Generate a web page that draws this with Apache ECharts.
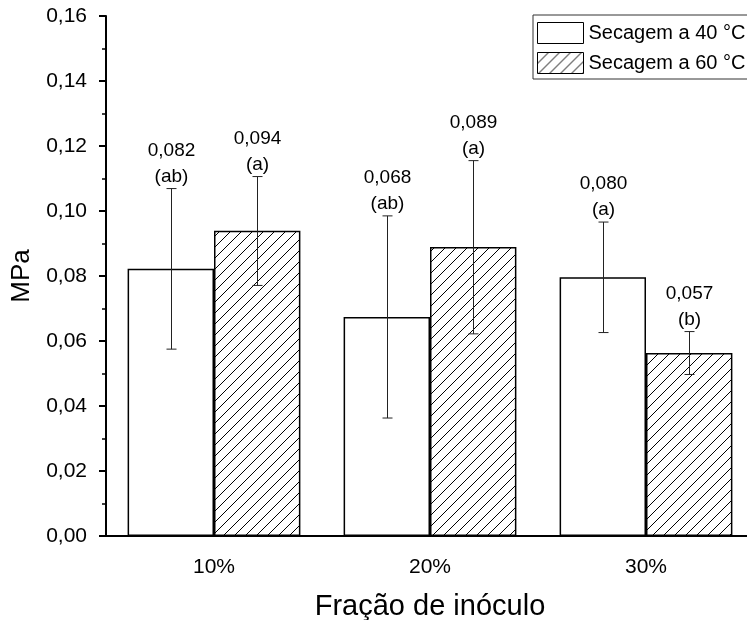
<!DOCTYPE html>
<html>
<head>
<meta charset="utf-8">
<script src="https://cdn.jsdelivr.net/npm/echarts@6/dist/echarts.min.js"></script>
<style>
  html, body { margin: 0; padding: 0; background: #fff; }
  #chart { width: 747px; height: 620px; }
</style>
</head>
<body>
<div id="chart"></div>
<script>
// ---- data ----
const categories = ['10%', '20%', '30%'];
const seriesNames = ['Secagem a 40 °C', 'Secagem a 60 °C'];
const mean40 = [0.0822, 0.0674, 0.0796];
const mean60 = [0.0939, 0.0889, 0.0563];
const low40 = [0.0575, 0.0363, 0.0626];
const high40 = [0.1069, 0.0985, 0.0966];
const low60 = [0.0771, 0.0622, 0.0497];
const high60 = [0.1106, 0.1155, 0.0629];
const valueLabels40 = ['0,082', '0,068', '0,080'];
const valueLabels60 = ['0,094', '0,089', '0,057'];
const letters40 = ['(ab)', '(ab)', '(a)'];
const letters60 = ['(a)', '(a)', '(b)'];
const yTicks = { min: 0, max: 0.16, interval: 0.02 };

const FONT = '"Liberation Sans", Arial, sans-serif';

function makeHatch() {
  const s = 11;
  const c = document.createElement('canvas');
  c.width = s; c.height = s;
  const ctx = c.getContext('2d');
  ctx.fillStyle = '#fff';
  ctx.fillRect(0, 0, s, s);
  ctx.strokeStyle = '#000';
  ctx.lineWidth = 1;
  ctx.beginPath();
  ctx.moveTo(0, s); ctx.lineTo(s, 0);
  ctx.moveTo(-2, 2); ctx.lineTo(2, -2);
  ctx.moveTo(s - 2, s + 2); ctx.lineTo(s + 2, s - 2);
  ctx.stroke();
  return c;
}
const hatch = { image: makeHatch(), repeat: 'repeat' };

function errorSeries(low, high, labels, letters, sign) {
  return {
    type: 'custom',
    z: 5,
    silent: true,
    data: categories.map((c, i) => [i, low[i], high[i]]),
    encode: { x: 0, y: [1, 2] },
    renderItem: function (params, api) {
      const idx = api.value(0);
      const x = api.coord([idx, 0])[0];
      const band = api.size([1, 0])[0];
      const bw = band * 0.4;
      const cx = Math.round(x + sign * bw / 2) + 0.5;
      const yLo = api.coord([idx, api.value(1)])[1];
      const yHi = api.coord([idx, api.value(2)])[1];
      const cap = 5;
      const ls = { stroke: '#222', lineWidth: 1 };
      return {
        type: 'group',
        children: [
          { type: 'line', shape: { x1: cx, y1: yHi, x2: cx, y2: yLo }, style: ls },
          { type: 'line', shape: { x1: cx - cap, y1: yHi, x2: cx + cap, y2: yHi }, style: ls },
          { type: 'line', shape: { x1: cx - cap, y1: yLo, x2: cx + cap, y2: yLo }, style: ls },
          {
            type: 'text',
            style: {
              text: labels[params.dataIndex] + '\n' + letters[params.dataIndex],
              x: cx, y: yHi + 1,
              align: 'center', verticalAlign: 'bottom',
              fontSize: 19, lineHeight: 26, fontFamily: FONT, fill: '#000'
            }
          }
        ]
      };
    }
  };
}

const chart = echarts.init(document.getElementById('chart'));
chart.setOption({
  animation: false,
  backgroundColor: '#fff',
  textStyle: { fontFamily: FONT, color: '#000' },
  grid: { left: 106, top: 16, width: 648, bottom: 84, containLabel: false, outerBoundsMode: 'none' },
  legend: {
    left: 533, top: 15,
    orient: 'vertical',
    itemWidth: 46, itemHeight: 21, itemGap: 8,
    padding: [7, 20, 5, 4],
    borderColor: '#333', borderWidth: 1,
    icon: 'rect',
    itemStyle: { borderColor: '#000', borderWidth: 1 },
    textStyle: { fontSize: 20, fontFamily: FONT, color: '#000' },
    data: seriesNames
  },
  xAxis: {
    type: 'category',
    data: categories,
    name: 'Fração de inóculo',
    nameLocation: 'middle',
    nameGap: 56,
    nameTextStyle: { fontSize: 29, fontFamily: FONT, color: '#000' },
    axisLine: { lineStyle: { color: '#000', width: 2 } },
    axisTick: { alignWithLabel: true, length: 7, lineStyle: { color: '#000', width: 2 } },
    axisLabel: { fontSize: 21, margin: 21, color: '#000', fontFamily: FONT },
    splitLine: { show: false }
  },
  yAxis: {
    type: 'value',
    min: yTicks.min, max: yTicks.max, interval: yTicks.interval,
    name: 'MPa',
    nameLocation: 'middle',
    nameGap: 63,
    nameTextStyle: { fontSize: 26, fontFamily: FONT, color: '#000' },
    axisLine: { show: true, lineStyle: { color: '#000', width: 2 } },
    axisTick: { show: true, length: 7, lineStyle: { color: '#000', width: 2 } },
    minorTick: { show: true, splitNumber: 2, length: 4, lineStyle: { color: '#000', width: 1.5 } },
    axisLabel: {
      fontSize: 21, margin: 19, color: '#000', fontFamily: FONT,
      formatter: v => v.toFixed(2).replace('.', ',')
    },
    splitLine: { show: false }
  },
  series: [
    {
      name: seriesNames[0], type: 'bar', data: mean40,
      barGap: '0%', barCategoryGap: '20%',
      itemStyle: { color: '#fff', borderColor: '#000', borderWidth: 1.5 }
    },
    {
      name: seriesNames[1], type: 'bar', data: mean60,
      barGap: '0%', barCategoryGap: '20%',
      itemStyle: { color: hatch, borderColor: '#000', borderWidth: 1.5 }
    },
    errorSeries(low40, high40, valueLabels40, letters40, -1),
    errorSeries(low60, high60, valueLabels60, letters60, 1)
  ]
});
</script>
</body>
</html>
